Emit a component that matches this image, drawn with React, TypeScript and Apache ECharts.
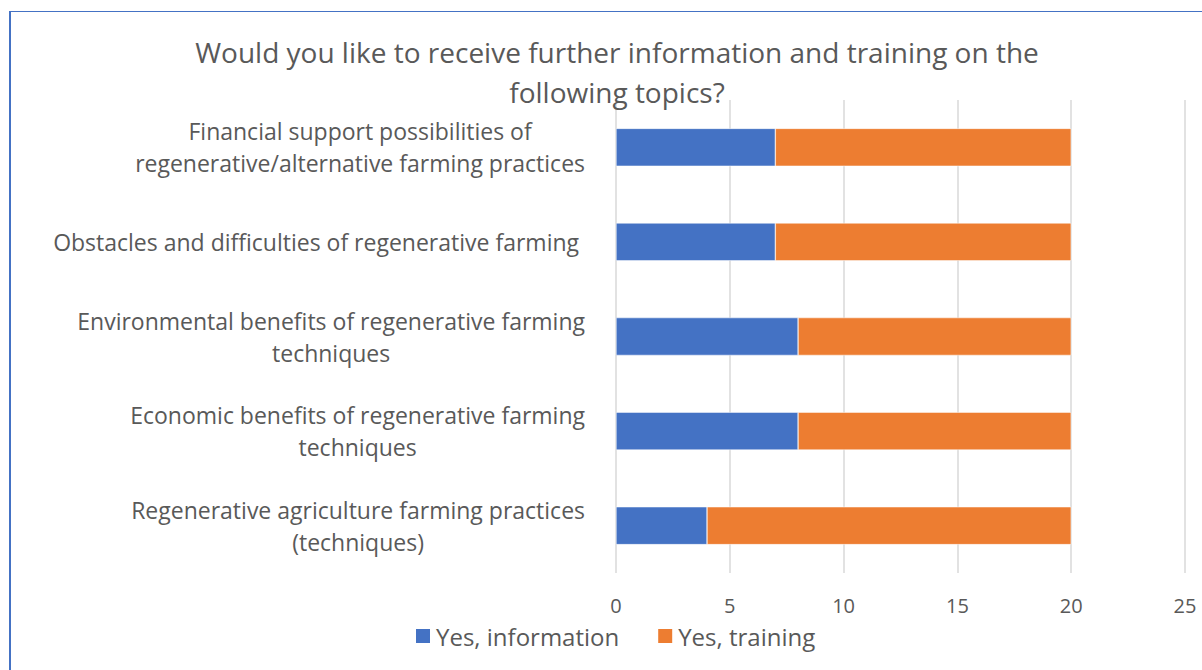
import React, { useEffect, useRef } from "react";
import * as echarts from "echarts";

const categories = [
  "Financial support possibilities of\nregenerative/alternative farming practices",
  "Obstacles and difficulties of regenerative farming\u00a0",
  "Environmental benefits of regenerative farming\ntechniques",
  "Economic benefits of regenerative farming\ntechniques",
  "Regenerative agriculture farming practices\n(techniques)",
];
const infoValues = [7, 7, 8, 8, 4];
const trainingValues = [13, 13, 12, 12, 16];
const seriesNames = ["Yes, information", "Yes, training"];
const titleText =
  "Would you like to receive further information and training on the\nfollowing topics?";

const FONT = "'Open Sans', 'Noto Sans', sans-serif";
const TXT = "#595959";

export default function App() {
  const ref = useRef<HTMLDivElement>(null);
  useEffect(() => {
    if (!ref.current) return;
    const chart = echarts.init(ref.current, null, { renderer: "svg" });
    chart.setOption({
      animation: false,
      backgroundColor: "#ffffff",
      textStyle: { fontFamily: FONT },
      title: {
        text: titleText,
        left: 612,
        textAlign: "center",
        top: 27,
        textStyle: {
          fontFamily: FONT,
          fontSize: 28,
          fontWeight: "normal",
          color: TXT,
          lineHeight: 40,
        },
      },
      graphic: [
        { type: "line", shape: { x1: 10, y1: 11, x2: 10, y2: 670 }, style: { stroke: "#4472C4", lineWidth: 2 } },
        { type: "line", shape: { x1: 9, y1: 11.5, x2: 1202, y2: 11.5 }, style: { stroke: "#4472C4", lineWidth: 1 } },
      ],
      legend: {
        data: seriesNames,
        left: 409,
        top: 619,
        itemWidth: 16,
        itemHeight: 16,
        itemGap: 37,
        icon: "rect",
        textStyle: { fontFamily: FONT, fontSize: 24, color: TXT },
      },
      grid: { left: 616, right: 17, top: 100, bottom: 97, containLabel: false },
      xAxis: {
        type: "value",
        min: 0,
        max: 25,
        interval: 5,
        axisLine: { show: false },
        axisTick: { show: false },
        splitLine: { lineStyle: { color: "#d9d9d9", width: 1.5 } },
        axisLabel: { fontFamily: FONT, fontSize: 20, color: TXT, margin: 22 },
      },
      yAxis: {
        type: "category",
        data: categories,
        inverse: true,
        axisLine: { show: false },
        axisTick: { show: false },
        axisLabel: {
          fontFamily: FONT,
          fontSize: 23,
          color: TXT,
          margin: 31,
          lineHeight: 32,
          align: "right",
          formatter: (v: string) =>
            v.split("\n").map((l) => `{c|${l}}`).join("\n"),
          rich: {
            c: {
              align: "center",
              fontFamily: FONT,
              fontSize: 23,
              color: TXT,
              lineHeight: 32,
            },
          },
        },
      },
      series: [
        {
          name: seriesNames[0],
          type: "bar",
          stack: "total",
          data: infoValues,
          barCategoryGap: "60%",
          itemStyle: { color: "#4472C4", borderColor: "#ffffff", borderWidth: 0.5 },
        },
        {
          name: seriesNames[1],
          type: "bar",
          stack: "total",
          data: trainingValues,
          barCategoryGap: "60%",
          itemStyle: { color: "#ED7D31", borderColor: "#ffffff", borderWidth: 0.5 },
        },
      ],
    });
    return () => chart.dispose();
  }, []);
  return (
    <div
      ref={ref}
      style={{ position: "fixed", left: 0, top: 0, width: 1202, height: 670 }}
    />
  );
}
